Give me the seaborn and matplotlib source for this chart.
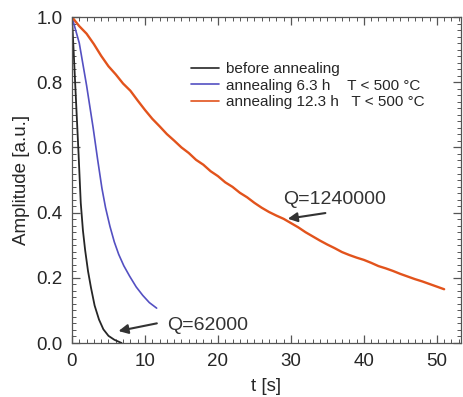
import numpy as np
import pandas as pd
import seaborn as sns
from matplotlib import pyplot as plt
from matplotlib.ticker import MultipleLocator, FormatStrFormatter

# ringdown curves
t_before = [0, 0.3, 0.6, 0.9, 1.2, 1.5, 1.8, 2.2, 2.6, 3.1, 3.7, 4.3, 5.0, 5.8, 6.8]
a_before = [1.0, 0.86, 0.72, 0.58, 0.43, 0.345, 0.285, 0.22, 0.17, 0.115, 0.072, 0.042, 0.022, 0.01, 0.0]

t_63h = [0, 1.0, 2.0, 2.9, 3.5, 4.1, 4.6, 5.2, 5.8, 6.4, 7.1, 7.9, 8.8, 9.7, 10.6, 11.6]
a_63h = [1.0, 0.92, 0.79, 0.66, 0.565, 0.475, 0.415, 0.358, 0.31, 0.272, 0.237, 0.205, 0.172, 0.146, 0.124, 0.107]

t_123h = list(range(0, 52))
a_123h = [1.0, 0.972, 0.949, 0.917, 0.881, 0.849, 0.824, 0.796, 0.774, 0.744, 0.715,
          0.688, 0.665, 0.641, 0.621, 0.600, 0.583, 0.562, 0.547, 0.527, 0.512, 0.493,
          0.479, 0.461, 0.447, 0.430, 0.415, 0.402, 0.391, 0.381, 0.368, 0.355, 0.340,
          0.327, 0.314, 0.302, 0.291, 0.279, 0.270, 0.262, 0.255, 0.246, 0.236, 0.229,
          0.221, 0.212, 0.204, 0.196, 0.189, 0.181, 0.173, 0.165]

labels = ['before annealing',
          'annealing 6.3 h    T < 500 °C',
          'annealing 12.3 h   T < 500 °C']
colors = ['#262626', '#5450c2', '#e2531c']

sns.set_style('ticks')
plt.rcParams['font.family'] = ['Liberation Sans', 'DejaVu Sans']
plt.rcParams['xtick.direction'] = 'in'
plt.rcParams['ytick.direction'] = 'in'
plt.rcParams['xtick.minor.visible'] = True
plt.rcParams['ytick.minor.visible'] = True

fig = plt.figure(figsize=(4.63, 3.97), dpi=100)
ax = fig.add_axes([0.1555, 0.136, 0.84, 0.821])

series = [(t_before, a_before), (t_63h, a_63h), (t_123h, a_123h)]
widths = [1.3, 1.2, 1.7]
for (t, a), lab, col, w in zip(series, labels, colors, widths):
    df = pd.DataFrame({'t': t, 'a': a})
    sns.lineplot(data=df, x='t', y='a', ax=ax, color=col, lw=w, label=lab,
                 sort=False, estimator=None)

ax.set_xlim(0, 53.3)
ax.set_ylim(0, 1.0)
ax.xaxis.set_major_locator(MultipleLocator(10))
ax.xaxis.set_minor_locator(MultipleLocator(1))
ax.yaxis.set_major_locator(MultipleLocator(0.2))
ax.yaxis.set_minor_locator(MultipleLocator(0.02))
ax.yaxis.set_major_formatter(FormatStrFormatter('%.1f'))
ax.tick_params(which='both', direction='in', top=True, right=True,
               bottom=True, left=True, color='#555555')
ax.tick_params(which='major', length=6, width=0.9, labelsize=13.5, pad=7)
ax.tick_params(which='minor', length=3, width=0.7)
for s in ax.spines.values():
    s.set_color('#555555')
    s.set_linewidth(0.9)

ax.set_xlabel('t [s]', fontsize=13.5, labelpad=6)
ax.set_ylabel('Amplitude [a.u.]', fontsize=13.5, labelpad=4)

leg = ax.legend(loc='upper left', bbox_to_anchor=(0.305, 0.862), frameon=False,
                fontsize=11, handlelength=1.85, handletextpad=0.45, labelspacing=0.17,
                borderpad=0, borderaxespad=0)
for h in leg.get_lines():
    h.set_linewidth(1.2)

arrow = dict(arrowstyle='-|>', color='#333333', lw=1.5, mutation_scale=14)
ax.annotate('', xy=(6.0, 0.035), xytext=(12.0, 0.062), arrowprops=arrow)
ax.text(13.0, 0.055, 'Q=62000', fontsize=14, va='center', ha='left', color='#333333')
ax.annotate('', xy=(29.2, 0.38), xytext=(35.1, 0.40), arrowprops=arrow)
ax.text(28.9, 0.44, 'Q=1240000', fontsize=14, va='center', ha='left', color='#333333')

fig.savefig('out.png', dpi=100)
